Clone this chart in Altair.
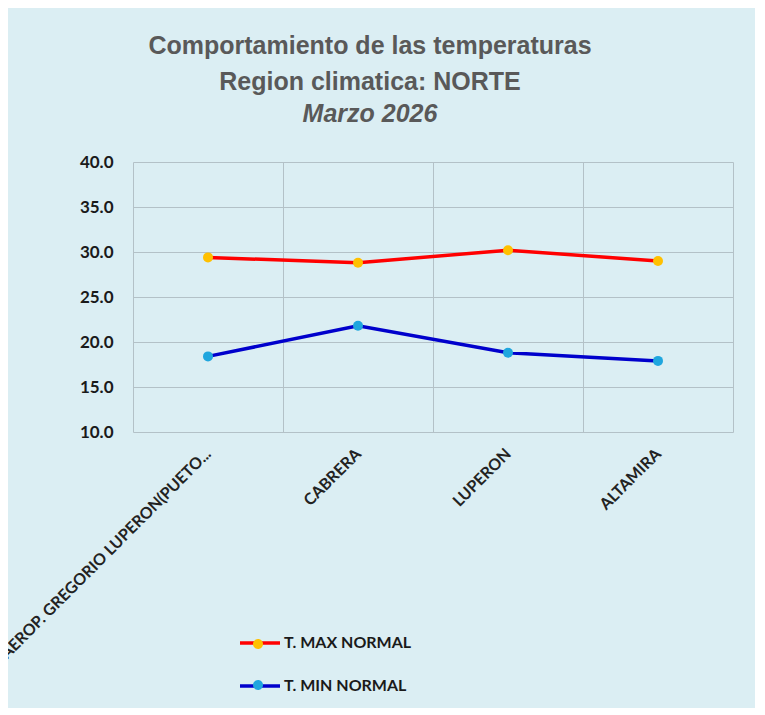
import altair as alt
import pandas as pd

estaciones = ["AEROP. GREGORIO LUPERON(PUETO...", "CABRERA", "LUPERON", "ALTAMIRA"]
t_max = [29.4, 28.8, 30.2, 29.0]
t_min = [18.4, 21.8, 18.8, 17.9]
series = ["T. MAX NORMAL", "T. MIN NORMAL"]
line_colors = ["#FF0000", "#0000CC"]
dot_colors = ["#FFC000", "#1FA6DE"]

rows = []
for est, v in zip(estaciones, t_max):
    rows.append({"estacion": est, "valor": v, "serie": series[0], "serie_p": series[0]})
for est, v in zip(estaciones, t_min):
    rows.append({"estacion": est, "valor": v, "serie": series[1], "serie_p": series[1]})
df = pd.DataFrame(rows)

FONT = "Lato"

x_enc = alt.X(
    "estacion:N",
    sort=estaciones,
    title=None,
    scale=alt.Scale(paddingInner=0, paddingOuter=0),
    axis=alt.Axis(
        labelAngle=-45,
        labelAlign="right",
        labelBaseline="middle",
        labelFont=FONT,
        labelFontWeight="bold",
        labelFontSize=16,
        labelColor="#222222",
        labelPadding=19,
        labelLimit=500,
        ticks=False,
        domain=False,
        grid=True,
        gridColor="#B3C1C7",
        gridWidth=1,
        tickBand="extent",
    ),
)
y_enc = alt.Y(
    "valor:Q",
    title=None,
    scale=alt.Scale(domain=[10, 40], nice=False, zero=False),
    axis=alt.Axis(
        values=[10, 15, 20, 25, 30, 35, 40],
        format=".1f",
        labelFont=FONT,
        labelFontWeight="bold",
        labelFontSize=17,
        labelColor="#1A1A1A",
        labelPadding=20,
        ticks=False,
        domain=False,
        grid=True,
        gridColor="#B3C1C7",
        gridWidth=1,
    ),
)

legend_common = dict(
    title=None,
    orient="none",
    legendX=105,
    symbolSize=1600,
    labelFont=FONT,
    labelFontWeight="bold",
    labelFontSize=16,
    labelOffset=2,
    rowPadding=13,
)

lines = alt.Chart(df).mark_line(strokeWidth=3.5).encode(
    x=x_enc,
    y=y_enc,
    color=alt.Color(
        "serie:N",
        scale=alt.Scale(domain=series, range=line_colors),
        legend=alt.Legend(
            symbolType="stroke",
            symbolStrokeWidth=3.5,
            labelColor="#1A1A1A",
            legendY=459,
            **legend_common,
        ),
    ),
)

points = alt.Chart(df).mark_point(filled=True, size=100, opacity=1, strokeWidth=0).encode(
    x=x_enc,
    y=y_enc,
    fill=alt.Fill(
        "serie_p:N",
        scale=alt.Scale(range=dot_colors),
        legend=alt.Legend(
            symbolType="M-0.25,0A0.25,0.25,0,1,0,0.25,0A0.25,0.25,0,1,0,-0.25,0Z",
            symbolStrokeWidth=0,
            symbolOpacity=1,
            labelExpr="' '",
            legendY=462,
            **legend_common,
        ),
    ),
)

chart = alt.layer(lines, points).properties(
    width=600,
    height=270,
    autosize=alt.AutoSizeParams(type="none"),
    padding={"left": 125, "top": 154, "right": 22, "bottom": 276},
    background="#DBEEF3",
    title=alt.TitleParams(
        text=["Comportamiento de las temperaturas", "Region climatica: NORTE"],
        subtitle="Marzo 2026",
        font="Liberation Sans",
        fontSize=25,
        fontWeight="bold",
        color="#595959",
        lineHeight=36,
        subtitleFont="Liberation Sans",
        subtitleFontSize=25,
        subtitleFontWeight="bold",
        subtitleFontStyle="italic",
        subtitleColor="#595959",
        subtitlePadding=7,
        anchor="middle",
        dx=-63,
        offset=26,
    ),
).configure_view(stroke=None)

chart.save("out.html", embed_options={"renderer": "svg", "actions": False})
